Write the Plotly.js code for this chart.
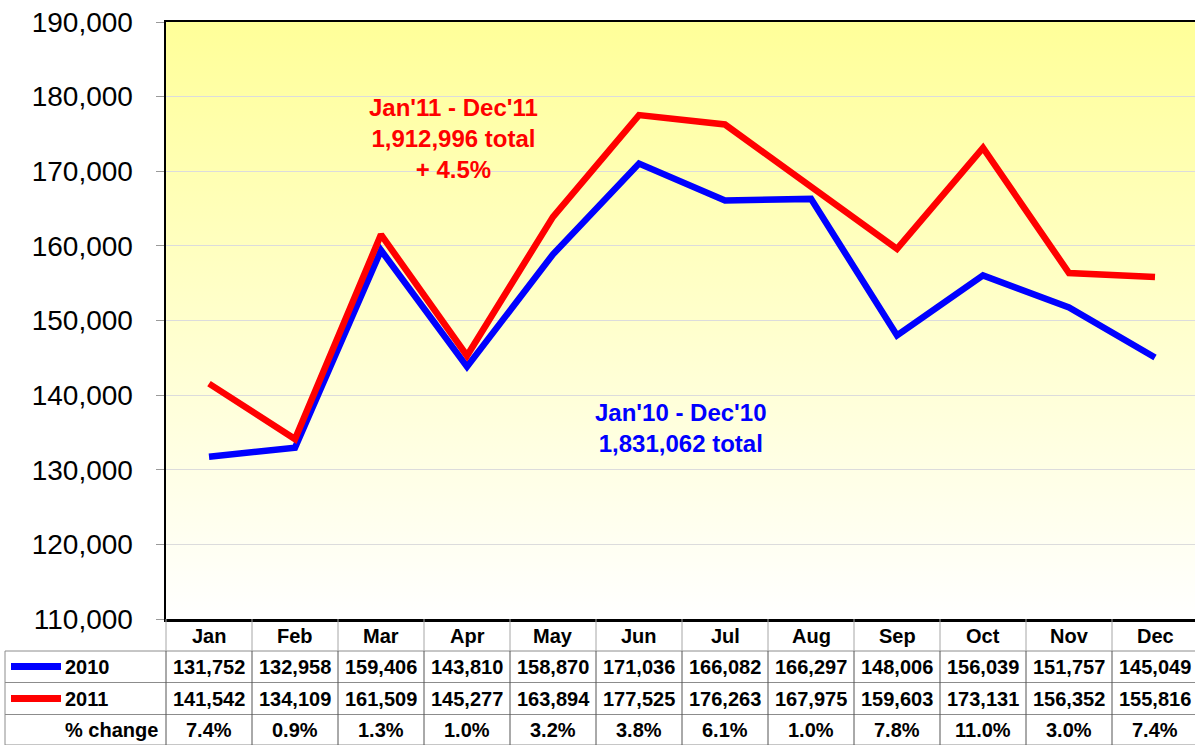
<!DOCTYPE html>
<html>
<head>
<meta charset="utf-8">
<script src="https://cdn.plot.ly/plotly-3.0.1.min.js"></script>
<style>html,body{margin:0;padding:0;background:#fff;}#chart{width:1195px;height:745px;}</style>
</head>
<body>
<div id="chart"></div>
<script>
const months = ['Jan','Feb','Mar','Apr','May','Jun','Jul','Aug','Sep','Oct','Nov','Dec'];
const sales2010 = [131752,132958,159406,143810,158870,171036,166082,166297,148006,156039,151757,145049];
const sales2011 = [141542,134109,161509,145277,163894,177525,176263,167975,159603,173131,156352,155816];
const pctChange = ['7.4%','0.9%','1.3%','1.0%','3.2%','3.8%','6.1%','1.0%','7.8%','11.0%','3.0%','7.4%'];
const seriesNames = ['2010','2011'];
const seriesColors = ['#0000FF','#FF0000'];
const note2011 = "Jan'11 - Dec'11<br>1,912,996 total<br>+ 4.5%";
const note2010 = "Jan'10 - Dec'10<br>1,831,062 total";

const FONT = '"Liberation Sans", Arial, sans-serif';
const W = 1195, H = 745, ML = 166, MR = 0, MT = 22, MB = 126;
const plotH = H - MT - MB;
const plotW = W - ML - MR;
const py = px => (H - MB - px) / plotH;   // pixel y -> paper y
const pxX = px => (px - ML) / plotW;      // pixel x -> paper x

const idx = months.map((m,i)=>i);

const traces = [
  {x: idx, y: sales2010, type:'scatter', mode:'lines', line:{color:seriesColors[0], width:6.5}, hoverinfo:'skip'},
  {x: idx, y: sales2011, type:'scatter', mode:'lines', line:{color:seriesColors[1], width:6.5}, hoverinfo:'skip'}
];

const svg = "<svg xmlns='http://www.w3.org/2000/svg' width='10' height='100' preserveAspectRatio='none'><defs><linearGradient id='g' x1='0' y1='0' x2='0' y2='1'><stop offset='0' stop-color='#FFFF99'/><stop offset='1' stop-color='#FFFFFF'/></linearGradient></defs><rect width='10' height='100' fill='url(#g)'/></svg>";
const bgUri = 'data:image/svg+xml;charset=utf-8,' + encodeURIComponent(svg);

// table geometry (pixel rows)
const rowLines = [651, 682.5, 714.5, 745];
const rowCenters = [635.5, 666.5, 698.5, 730];

const shapes = [];
const annotations = [];
rowLines.forEach(yp => {
  shapes.push({type:'line', xref:'paper', yref:'paper', x0:pxX(5), x1:1.01, y0:py(yp), y1:py(yp), line:{color:'#8C8C8C', width:1}});
});
shapes.push({type:'line', xref:'paper', yref:'paper', x0:pxX(5), x1:pxX(5), y0:py(651), y1:py(745), line:{color:'#8C8C8C', width:1}});
for (let i = 0; i <= 12; i++) {
  const xp = i / 11.965;
  shapes.push({type:'line', xref:'paper', yref:'paper', x0:xp, x1:xp, y0:0, y1:py(651), line:{color:'#A6A6A6', width:1}});
  shapes.push({type:'line', xref:'paper', yref:'paper', x0:xp, x1:xp, y0:py(651), y1:py(745), line:{color:'#555555', width:1}});
}
seriesColors.forEach((c,k) => {
  const yc = py(rowCenters[k+1]);
  shapes.push({type:'line', xref:'paper', yref:'paper', x0:pxX(11), x1:pxX(61), y0:yc, y1:yc, line:{color:c, width:7}});
  annotations.push({xref:'paper', yref:'paper', x:pxX(63), y:yc, xanchor:'left', yanchor:'middle', showarrow:false,
    text:'<b>'+seriesNames[k]+'</b>', font:{family:FONT, size:20, color:'#000'}});
});
annotations.push({xref:'paper', yref:'paper', x:pxX(160), y:py(rowCenters[3]), xanchor:'right', yanchor:'middle', showarrow:false,
  text:'<b>% change</b>', font:{family:FONT, size:20, color:'#000'}});

months.forEach((m,i) => {
  const rows = [m, sales2010[i].toLocaleString('en-US'), sales2011[i].toLocaleString('en-US'), pctChange[i]];
  rows.forEach((t,r) => {
    annotations.push({xref:'x', yref:'paper', x:i, y:py(rowCenters[r]), xanchor:'center', yanchor:'middle', showarrow:false,
      text:'<b>'+t+'</b>', font:{family:FONT, size:20, color:'#000'}});
  });
});

annotations.push({xref:'paper', yref:'paper', x:pxX(453), y:py(139), xanchor:'center', yanchor:'middle', showarrow:false,
  text:'<b>'+note2011+'</b>', align:'center', font:{family:FONT, size:24, color:'#FF0000'}});
annotations.push({xref:'paper', yref:'paper', x:pxX(681), y:py(428), xanchor:'center', yanchor:'middle', showarrow:false,
  text:'<b>'+note2010+'</b>', align:'center', font:{family:FONT, size:24, color:'#0000FF'}});

const layout = {
  width: W, height: H,
  margin: {l:ML, r:MR, t:MT, b:MB, pad:0},
  paper_bgcolor: '#FFFFFF',
  plot_bgcolor: 'rgba(0,0,0,0)',
  showlegend: false,
  font: {family: FONT, color:'#000'},
  xaxis: {
    range: [-0.5, 11.465], showgrid:false, zeroline:false, showticklabels:false, ticks:'',
    showline:true, linecolor:'#000', linewidth:2.5, mirror:true, fixedrange:true
  },
  yaxis: {
    range: [110000, 190000], dtick: 10000, tickformat: ',d',
    showgrid:true, gridcolor:'#DCDCDC', gridwidth:1, zeroline:false,
    ticks:'outside', ticklen:8, tickcolor:'#9A9A9A', tickwidth:1,
    showline:true, linecolor:'#000', linewidth:2.5, mirror:false,
    tickfont:{family:FONT, size:28, color:'#000'}, ticklabelstandoff: 17, fixedrange:true
  },
  images: [{source: bgUri, xref:'paper', yref:'paper', x:0, y:1, sizex:1, sizey:1, sizing:'stretch', xanchor:'left', yanchor:'top', layer:'below'}],
  shapes: shapes,
  annotations: annotations
};

Plotly.newPlot('chart', traces, layout, {displayModeBar:false, staticPlot:true});
</script>
</body>
</html>
